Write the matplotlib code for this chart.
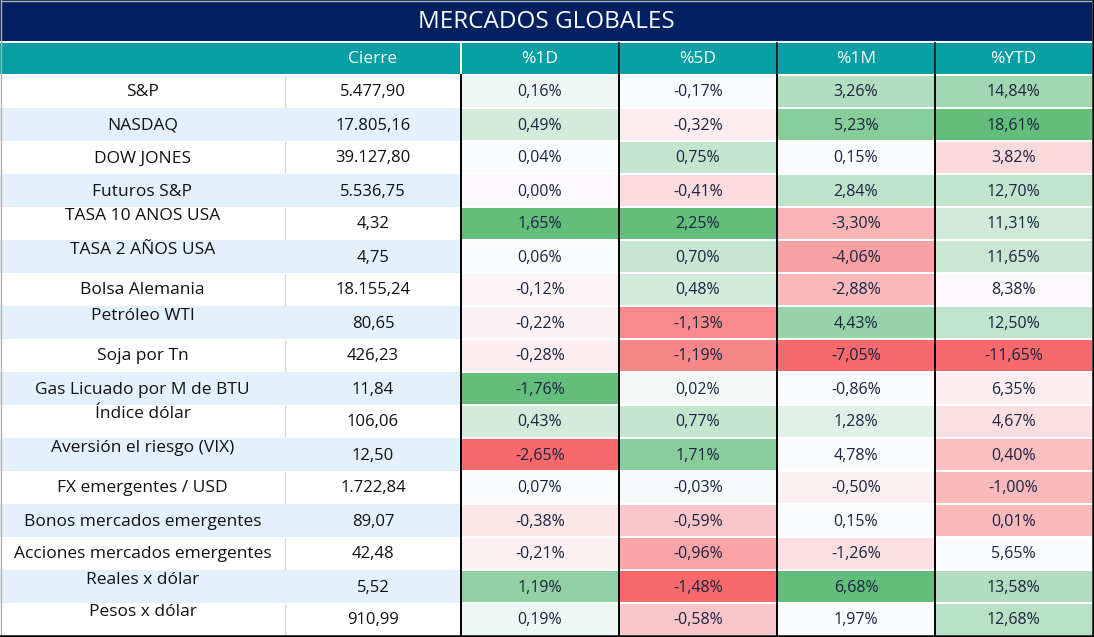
import matplotlib as mpl
mpl.use('Agg')
import matplotlib.pyplot as plt
from matplotlib.patches import Rectangle
from matplotlib.colors import LinearSegmentedColormap

title = "MERCADOS GLOBALES"
headers = ["Cierre", "%1D", "%5D", "%1M", "%YTD"]

names = ["S&P", "NASDAQ", "DOW JONES", "Futuros S&P", "TASA 10 ANOS USA",
         "TASA 2 AÑOS USA", "Bolsa Alemania", "Petróleo WTI", "Soja por Tn",
         "Gas Licuado por M de BTU", "Índice dólar", "Aversión el riesgo (VIX)",
         "FX emergentes / USD", "Bonos mercados emergentes",
         "Acciones mercados emergentes", "Reales x dólar", "Pesos x dólar"]
# rows whose label sits at the top of the cell
raised = [False, False, False, False, True, True, False, True, False,
          False, True, True, False, False, False, True, True]

cierre = [5477.90, 17805.16, 39127.80, 5536.75, 4.32, 4.75, 18155.24, 80.65,
          426.23, 11.84, 106.06, 12.50, 1722.84, 89.07, 42.48, 5.52, 910.99]

d1 = [0.16, 0.49, 0.04, 0.00, 1.65, 0.06, -0.12, -0.22, -0.28, -1.76, 0.43,
      -2.65, 0.07, -0.38, -0.21, 1.19, 0.19]
d5 = [-0.17, -0.32, 0.75, -0.41, 2.25, 0.70, 0.48, -1.13, -1.19, 0.02, 0.77,
      1.71, -0.03, -0.59, -0.96, -1.48, -0.58]
m1 = [3.26, 5.23, 0.15, 2.84, -3.30, -4.06, -2.88, 4.43, -7.05, -0.86, 1.28,
      4.78, -0.50, 0.15, -1.26, 6.68, 1.97]
ytd = [14.84, 18.61, 3.82, 12.70, 11.31, 11.65, 8.38, 12.50, -11.65, 6.35,
       4.67, 0.40, -1.00, 0.01, 5.65, 13.58, 12.68]

# colour-scale level of each cell as shown (-1 red .. 0 white .. 1 green)
h_d1 = [0.08, 0.27, 0.0, -0.01, 1.0, 0.0, -0.06, -0.07, -0.1, 1.0, 0.27,
        -1.0, 0.0, -0.15, -0.08, 0.7, 0.08]
h_d5 = [0.0, -0.1, 0.37, -0.22, 1.0, 0.35, 0.27, -0.78, -0.8, 0.05, 0.37,
        0.75, 0.04, -0.36, -0.6, -1.0, -0.36]
h_m1 = [0.48, 0.76, 0.0, 0.4, -0.49, -0.61, -0.46, 0.66, -1.0, 0.0, 0.18,
        0.0, -0.09, 0.0, -0.2, 1.0, 0.0]
h_ytd = [0.6, 1.0, -0.23, 0.39, 0.29, 0.33, -0.02, 0.39, -1.0, -0.1,
         -0.2, -0.42, -0.45, -0.45, 0.0, 0.48, 0.44]

pct_cols = [d1, d5, m1, ytd]
heat_cols = [h_d1, h_d5, h_m1, h_ytd]

plt.rcParams['font.family'] = ['Open Sans', 'DejaVu Sans']

W, H = 1094, 637
fig = plt.figure(figsize=(W / 100, H / 100), dpi=100)
ax = fig.add_axes([0, 0, 1, 1])
ax.set_xlim(0, W)
ax.set_ylim(H, 0)
ax.axis('off')

navy = '#012060'
teal = '#069FA5'
band = '#E3F1FC'
cmap = LinearSegmentedColormap.from_list('xl', ['#F8696B', '#FCFCFF', '#63BE7B'])

edges = [0, 285, 461, 619, 777, 935, 1092]
title_h = 41
head_top, head_bot = 43, 73.5
row_top, row_h = 74.5, 33


def fmt_pct(v):
    return f"{v:.2f}".replace('.', ',') + '%'


def fmt_num(v):
    return f"{v:,.2f}".replace(',', 'X').replace('.', ',').replace('X', '.')


# title bar
ax.add_patch(Rectangle((0, 0), edges[-1], title_h, color=navy, lw=0))
ax.text(edges[-1] / 2, title_h / 2 + 1, title, color='white', fontsize=17.5,
        ha='center', va='center')

# header bar
ax.add_patch(Rectangle((0, head_top), edges[2] - 1, head_bot - head_top, color=teal, lw=0))
for j in range(2, 6):
    ax.add_patch(Rectangle((edges[j] + 1, head_top), edges[j + 1] - edges[j] - 1,
                           head_bot - head_top, color=teal, lw=0))
hy = (head_top + head_bot) / 2 + 1
ax.text((edges[1] + edges[2]) / 2, hy, headers[0], color='white', fontsize=12.5,
        ha='center', va='center')
for j, h in enumerate(headers[1:]):
    ax.text((edges[j + 2] + edges[j + 3]) / 2, hy, h, color='white', fontsize=12.5,
            ha='center', va='center')
for j in range(3, 6):
    ax.plot([edges[j], edges[j]], [head_top, head_bot], color='black', lw=1.2)

# body rows
for i, name in enumerate(names):
    top = row_top + i * row_h
    cy = top + row_h / 2 + 1.5
    if i % 2 == 1:
        ax.add_patch(Rectangle((0, top), edges[2], row_h, color=band, lw=0))
    else:
        ax.plot([edges[1], edges[1]], [top + 1, top + row_h - 1], color='#D9D9D9', lw=1)
    ny = cy - 8 if raised[i] else cy
    ax.text((edges[0] + edges[1]) / 2, ny, name, color='#111111', fontsize=12.5,
            ha='center', va='center')
    ax.text((edges[1] + edges[2]) / 2, cy, fmt_num(cierre[i]), color='#111111',
            fontsize=12, ha='center', va='center')
    for j in range(4):
        x0, x1 = edges[j + 2], edges[j + 3]
        c = cmap(heat_cols[j][i] / 2 + 0.5)
        ax.add_patch(Rectangle((x0, top + 1), x1 - x0, row_h - 2, color=c, lw=0))
        ax.text((x0 + x1) / 2, cy, fmt_pct(pct_cols[j][i]), color='#1B2440',
                fontsize=11.5, ha='center', va='center')

body_bot = row_top + len(names) * row_h
for j in range(2, 6):
    ax.plot([edges[j], edges[j]], [row_top, body_bot], color='black', lw=1.4)

# outer frame
ax.plot([0.5, W - 1.5], [0.5, 0.5], color='#B0B0B0', lw=1)
ax.plot([0.5, 0.5], [0, H - 1], color='#B0B0B0', lw=1)
ax.plot([W - 1.5, W - 1.5], [0, H - 1], color='black', lw=1.8)
ax.plot([0, W - 1], [H - 1.5, H - 1.5], color='black', lw=1.8)

fig.savefig('out.png', dpi=100, facecolor='white')
